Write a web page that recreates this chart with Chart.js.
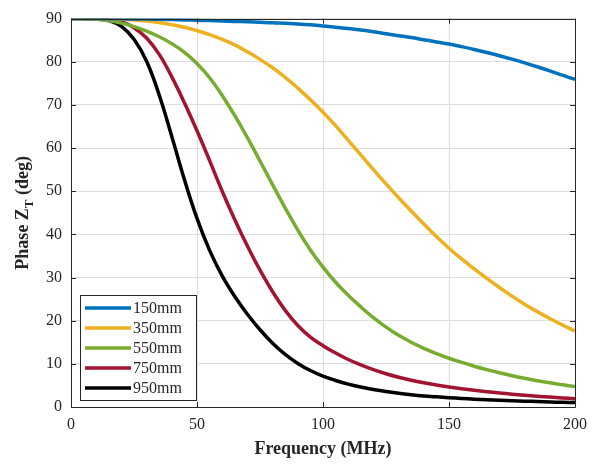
<!DOCTYPE html>
<html>
<head>
<meta charset="utf-8">
<script src="https://cdn.jsdelivr.net/npm/chart.js@4/dist/chart.umd.min.js"></script>
<style>
html,body{margin:0;padding:0;background:#fff;}
#wrap{width:606px;height:468px;position:relative;}
</style>
</head>
<body>
<div id="wrap"><canvas id="c" width="606" height="468"></canvas></div>
<script>
const freq = [0,5,10,15,20,25,30,35,40,45,50,55,60,65,70,75,80,85,90,95,100,105,110,115,120,125,130,135,140,145,150,155,160,165,170,175,180,185,190,195,200];
const s150 = [90,90,90,89.98,89.95,89.92,89.88,89.83,89.77,89.7,89.62,89.55,89.45,89.35,89.25,89.15,89.05,88.9,88.75,88.55,88.3,88.0,87.7,87.35,86.95,86.5,86.05,85.6,85.1,84.6,84.1,83.5,82.85,82.15,81.4,80.6,79.75,78.85,77.9,76.9,75.9];
const s350 = [90,90,90,89.95,89.85,89.7,89.45,89.1,88.6,88.0,87.2,86.3,85.2,83.9,82.3,80.55,78.6,76.4,73.9,71.2,68.3,65.2,61.8,58.4,55.0,51.7,48.5,45.4,42.4,39.5,36.8,34.3,32.0,29.8,27.7,25.7,23.8,22.1,20.5,19.0,17.6];
const s550 = [90,89.98,89.85,89.5,88.95,88.15,87.1,85.8,84.2,82.2,79.6,76.3,72.2,67.5,62.4,57.0,51.5,46.1,41.0,36.4,32.4,28.9,25.9,23.2,20.7,18.5,16.6,15.0,13.6,12.4,11.3,10.35,9.45,8.65,7.92,7.25,6.65,6.1,5.6,5.15,4.72];
const s750 = [90,90,89.95,89.8,89.3,87.9,85.5,81.7,76.5,70.5,64.0,57.1,50.0,43.4,37.3,31.7,26.7,22.4,18.9,16.2,14.2,12.5,11.0,9.75,8.65,7.7,6.9,6.2,5.6,5.08,4.62,4.22,3.86,3.54,3.25,2.98,2.73,2.5,2.29,2.1,1.92];
const s950 = [90,90,89.92,89.55,88.2,85.2,80.1,72.3,62.7,52.7,43.7,36.3,30.4,25.6,21.5,17.9,14.8,12.2,10.1,8.45,7.15,6.15,5.3,4.62,4.05,3.57,3.18,2.85,2.57,2.35,2.15,1.98,1.82,1.68,1.56,1.45,1.35,1.26,1.17,1.09,1.02];
const seriesLabels = ['150mm','350mm','550mm','750mm','950mm'];
const seriesColors = ['#0072BD','#EDB120','#77AC30','#A2142F','#000000'];
const xTicks = [0,50,100,150,200];
const yTicks = [0,10,20,30,40,50,60,70,80,90];
const xTitle = 'Frequency (MHz)';

const allSeries = [s150,s350,s550,s750,s950];
const FONT = "'Liberation Serif','Times New Roman',serif";
const AX = '#262626';

const datasets = allSeries.map((s,i)=>({
  label: seriesLabels[i],
  data: freq.map((f,j)=>({x:f,y:s[j]})),
  borderColor: seriesColors[i],
  backgroundColor: seriesColors[i],
  borderWidth: 3.5,
  pointRadius: 0,
  tension: 0.4,
  fill: false
}));

const framePlugin = {
  id:'frame',
  afterDraw(chart){
    const ctx = chart.ctx, a = chart.chartArea;
    const xs = chart.scales.x, ys = chart.scales.y;
    ctx.save();
    ctx.strokeStyle = AX; ctx.lineWidth = 1;
    ctx.beginPath();
    ctx.rect(Math.round(a.left)+0.5, Math.round(a.top)+0.5, Math.round(a.right-a.left), Math.round(a.bottom-a.top));
    ctx.stroke();
    ctx.beginPath();
    xTicks.forEach(v=>{
      const px = Math.round(xs.getPixelForValue(v))+0.5;
      ctx.moveTo(px,a.bottom); ctx.lineTo(px,a.bottom-5);
      ctx.moveTo(px,a.top); ctx.lineTo(px,a.top+5);
    });
    yTicks.forEach(v=>{
      const py = Math.round(ys.getPixelForValue(v))+0.5;
      ctx.moveTo(a.left,py); ctx.lineTo(a.left+5,py);
      ctx.moveTo(a.right,py); ctx.lineTo(a.right-5,py);
    });
    ctx.stroke();

    // legend
    const lx = 80, ly = 295, lw = 116, lh = 105;
    ctx.fillStyle = '#fff';
    ctx.fillRect(lx,ly,lw,lh);
    ctx.strokeStyle = AX; ctx.lineWidth = 1;
    ctx.strokeRect(lx+0.5,ly+0.5,lw,lh);
    ctx.font = "16px " + FONT;
    ctx.textBaseline = 'middle';
    ctx.textAlign = 'left';
    seriesLabels.forEach((lab,i)=>{
      const y = ly + 13 + i*20;
      ctx.strokeStyle = seriesColors[i]; ctx.lineWidth = 3.5;
      ctx.beginPath(); ctx.moveTo(lx+5,y); ctx.lineTo(lx+51,y); ctx.stroke();
      ctx.fillStyle = AX;
      ctx.fillText(lab, lx+53, y+1);
    });

    // x title
    ctx.fillStyle = AX;
    ctx.font = "bold 18px " + FONT;
    ctx.textAlign = 'center';
    ctx.textBaseline = 'middle';
    ctx.fillText(xTitle, (a.left+a.right)/2, 449);

    // y title with subscript
    ctx.textAlign = 'left';
    ctx.translate(22, (a.top+a.bottom)/2);
    ctx.rotate(-Math.PI/2);
    ctx.textBaseline = 'alphabetic';
    const big = "bold 18px " + FONT, small = "bold 13px " + FONT;
    ctx.font = big; const w1 = ctx.measureText('Phase Z').width;
    ctx.font = small; const w2 = ctx.measureText('T').width;
    ctx.font = big; const w3 = ctx.measureText(' (deg)').width;
    let x0 = -(w1+w2+w3)/2;
    const base = 6;
    ctx.font = big; ctx.fillText('Phase Z', x0, base);
    ctx.font = small; ctx.fillText('T', x0+w1, base+5);
    ctx.font = big; ctx.fillText(' (deg)', x0+w1+w2, base);
    ctx.restore();
  }
};

new Chart(document.getElementById('c'), {
  type:'line',
  data:{datasets},
  options:{
    responsive:false,
    animation:false,
    layout:{padding:{top:10,right:31,left:0,bottom:0}},
    plugins:{legend:{display:false},tooltip:{enabled:false}},
    scales:{
      x:{
        type:'linear', min:0, max:200,
        afterBuildTicks(s){ s.ticks = xTicks.map(v=>({value:v})); },
        afterFit(s){ s.height = 61; },
        grid:{color:'#dedede', drawTicks:false, lineWidth:1},
        border:{display:false},
        ticks:{padding:8, color:AX, font:{family:FONT,size:16}, maxRotation:0}
      },
      y:{
        type:'linear', min:0, max:90,
        afterBuildTicks(s){ s.ticks = yTicks.map(v=>({value:v})); },
        afterFit(s){ s.width = 71; },
        grid:{color:'#dedede', drawTicks:false, lineWidth:1},
        border:{display:false},
        ticks:{padding:9, color:AX, font:{family:FONT,size:16}}
      }
    }
  },
  plugins:[framePlugin]
});
</script>
</body>
</html>
